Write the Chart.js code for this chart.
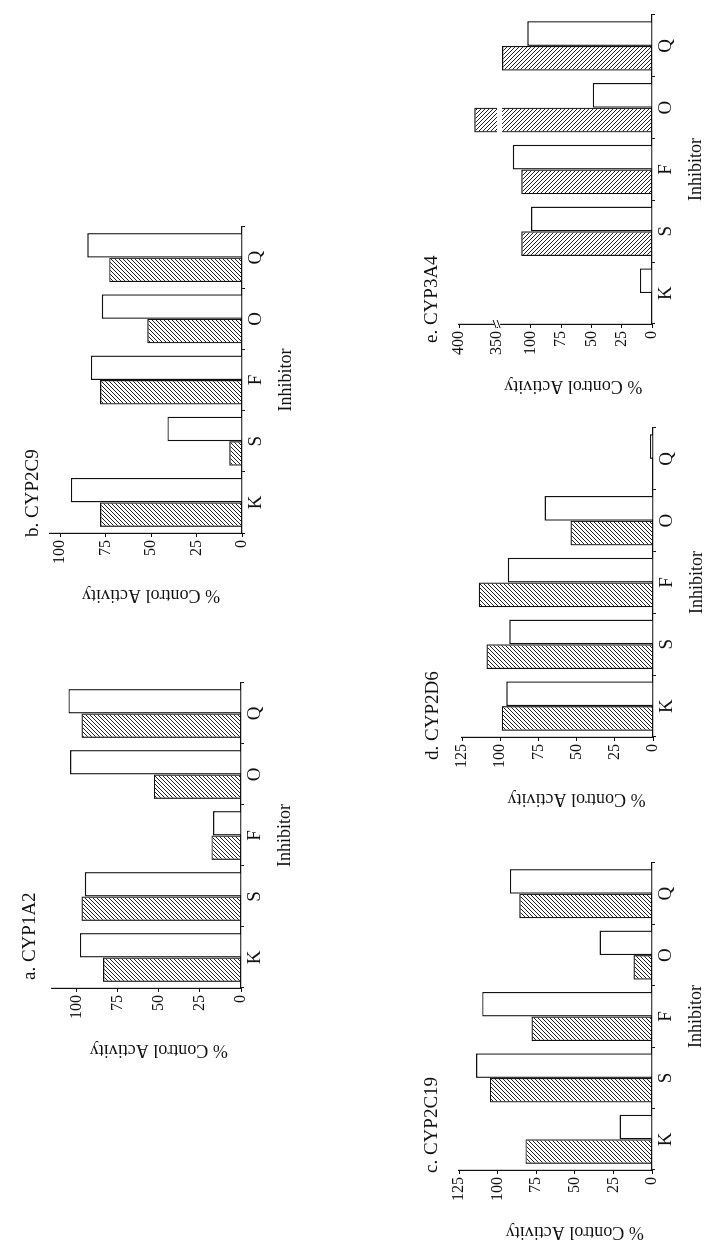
<!DOCTYPE html>
<html lang="en">
<head>
  <meta charset="UTF-8" />
  <title>CYP inhibition – % control activity</title>
  <script src="https://cdn.jsdelivr.net/npm/chart.js"></script>
  <style>
    html, body { margin: 0; padding: 0; background: #fff; overflow: hidden; }
    /* the figure is laid out landscape, then turned a quarter turn as on the scanned page */
    #page { position: absolute; left: 0; top: 0; width: 1243px; height: 704px;
            transform-origin: 0 0; transform: translate(0, 1243px) rotate(-90deg); }
    #page canvas { position: absolute; }
  </style>
</head>
<body>
  <div id="page"></div>

  <script>
    // --- data ---
    const inhibitors = ['K', 'S', 'F', 'O', 'Q'];

    const cyp1a2Hatched  = [84, 97, 18, 53, 97];
    const cyp1a2Open     = [98, 95, 17, 104, 105];
    const cyp2c9Hatched  = [78, 7, 78, 52, 73];
    const cyp2c9Open     = [94, 41, 83, 77, 85];
    const cyp2c19Hatched = [82, 105, 78, 12, 86];
    const cyp2c19Open    = [21, 114, 110, 34, 92];
    const cyp2d6Hatched  = [99, 109, 114, 54, 0.5];
    const cyp2d6Open     = [96, 94, 95, 71, 2];
    const cyp3a4Hatched  = [null, 108, 108, 380, 124];
    const cyp3a4Open     = [10, 100, 115, 49, 103];

    const ticks100 = [0, 25, 50, 75, 100];
    const ticks125 = [0, 25, 50, 75, 100, 125];
    const ticks3a4 = [0, 25, 50, 75, 100, 350, 400];

    const FONT = "'Liberation Serif', 'Times New Roman', serif";
    const INK = '#111';
    const YW = 80, XH = 55, PT = 45, PR = 12;

    // broken axis of panel e: linear below the break, 350-400 squeezed above it
    const BRK_AT = 128;
    const brk = v => (v == null ? null : v <= 125 ? v : BRK_AT + (v - 350) * 0.63);
    const same = v => v;

    function hatch(dir) {
      const c = document.createElement('canvas');
      c.width = c.height = 4;
      const g = c.getContext('2d');
      g.strokeStyle = '#222';
      g.lineWidth = 1;
      g.beginPath();
      if (dir > 0) {
        g.moveTo(0, 4); g.lineTo(4, 0);
        g.moveTo(-1, 1); g.lineTo(1, -1);
        g.moveTo(3, 5); g.lineTo(5, 3);
      } else {
        g.moveTo(0, 0); g.lineTo(4, 4);
        g.moveTo(-1, 3); g.lineTo(1, 5);
        g.moveTo(3, -1); g.lineTo(5, 1);
      }
      g.stroke();
      return g.createPattern(c, 'repeat');
    }

    // plot-area boxes in the landscape frame
    const panels = [
      { title: 'a. CYP1A2', hatched: cyp1a2Hatched, open: cyp1a2Open, ticks: ticks100, max: 115,
        left: 255, right: 560, top: 51.7, bottom: 240.7, tdx: 8, tdy: -17, yMid: 50, dir: 1, map: same },
      { title: 'b. CYP2C9', hatched: cyp2c9Hatched, open: cyp2c9Open, ticks: ticks100, max: 105.5,
        left: 710, right: 1016, top: 50, bottom: 241.7, tdx: -4, tdy: -12, yMid: 50, dir: 1, map: same },
      { title: 'c. CYP2C19', hatched: cyp2c19Hatched, open: cyp2c19Open, ticks: ticks125, max: 125,
        left: 73, right: 380, top: 459.3, bottom: 652.3, tdx: -3, tdy: -22, yMid: 50, dir: 1, map: same },
      { title: 'd. CYP2D6', hatched: cyp2d6Hatched, open: cyp2d6Open, ticks: ticks125, max: 125,
        left: 506, right: 815, top: 462, bottom: 653, tdx: -23, tdy: -24, yMid: 50, dir: 1, map: same },
      { title: 'e. CYP3A4', hatched: cyp3a4Hatched, open: cyp3a4Open, ticks: ticks3a4, max: brk(400),
        left: 919, right: 1228, top: 459, bottom: 652, tdx: -19, tdy: -22, yMid: 65, dir: -1, map: brk, broken: true }
    ];

    const page = document.getElementById('page');

    panels.forEach(p => {
      const cv = document.createElement('canvas');
      const w = Math.round(p.right - p.left + YW + PR);
      const h = Math.round(p.bottom - p.top + PT + XH);
      cv.width = w; cv.height = h;
      cv.style.width = w + 'px'; cv.style.height = h + 'px';
      cv.style.left = (p.left - YW) + 'px';
      cv.style.top = (p.top - PT) + 'px';
      page.appendChild(cv);

      // panel title, y-axis title and (panel e) the axis break
      const panelText = {
        id: 'panelText',
        afterDatasetsDraw(chart) {
          if (!p.broken) return;
          const { ctx, chartArea: ca, scales: { y } } = chart;
          const meta = chart.getDatasetMeta(0);
          const yg = y.getPixelForValue(126);
          ctx.save();
          ctx.fillStyle = '#fff';
          meta.data.forEach((bar, i) => {
            if (p.hatched[i] > 350) ctx.fillRect(bar.x - bar.width / 2 - 2, yg - 2.5, bar.width + 4, 5);
          });
          const ya = y.getPixelForValue(BRK_AT);
          ctx.fillRect(ca.left - 3, ya - 3, 6, 6);
          ctx.strokeStyle = INK; ctx.lineWidth = 1;
          ctx.beginPath();
          ctx.moveTo(ca.left - 4, ya - 1); ctx.lineTo(ca.left + 4, ya - 4);
          ctx.moveTo(ca.left - 4, ya + 3); ctx.lineTo(ca.left + 4, ya);
          ctx.stroke();
          ctx.restore();
        },
        afterDraw(chart) {
          const { ctx, chartArea: ca, scales: { y } } = chart;
          ctx.save();
          ctx.fillStyle = INK;
          ctx.font = `19px ${FONT}`;
          ctx.textAlign = 'left';
          ctx.textBaseline = 'alphabetic';
          ctx.fillText(p.title, ca.left + p.tdx, ca.top + p.tdy);
          ctx.font = `18px ${FONT}`;
          ctx.translate(ca.left - 62, y.getPixelForValue(p.yMid));
          ctx.rotate(-Math.PI / 2);
          ctx.textAlign = 'center';
          ctx.textBaseline = 'middle';
          ctx.fillText('% Control Activity', 0, 0);
          ctx.restore();
        }
      };

      new Chart(cv, {
        type: 'bar',
        data: {
          labels: inhibitors,
          datasets: [
            { data: p.hatched.map(p.map), backgroundColor: hatch(p.dir), borderColor: INK, borderWidth: 1.2 },
            { data: p.open.map(p.map), backgroundColor: '#fff', borderColor: INK, borderWidth: 1.4 }
          ]
        },
        options: {
          responsive: false,
          animation: false,
          devicePixelRatio: 1,
          layout: { padding: { top: PT, right: PR, left: 0, bottom: 0 } },
          datasets: { bar: { categoryPercentage: 0.8, barPercentage: 1 } },
          plugins: { legend: { display: false }, tooltip: { enabled: false } },
          scales: {
            x: {
              offset: true,
              grid: { offset: true, drawOnChartArea: false, tickLength: 3, color: INK },
              border: { color: INK, width: 1.2 },
              ticks: { font: { family: FONT, size: 19 }, color: INK, padding: 0, maxRotation: 0 },
              title: { display: true, text: 'Inhibitor', font: { family: FONT, size: 18 }, color: INK,
                       padding: { top: 0, bottom: 0 } },
              afterFit: s => { s.height = XH; }
            },
            y: {
              min: 0, max: p.max,
              grid: { drawOnChartArea: false, tickLength: 4, color: INK },
              border: { color: INK, width: 1.2 },
              ticks: { font: { family: FONT, size: 16 }, color: INK, padding: 3,
                       callback: (v, i) => String(p.ticks[i]) },
              afterBuildTicks: s => { s.ticks = p.ticks.map(t => ({ value: p.map(t) })); },
              afterFit: s => { s.width = YW; }
            }
          }
        },
        plugins: [panelText]
      });
    });
  </script>
</body>
</html>
